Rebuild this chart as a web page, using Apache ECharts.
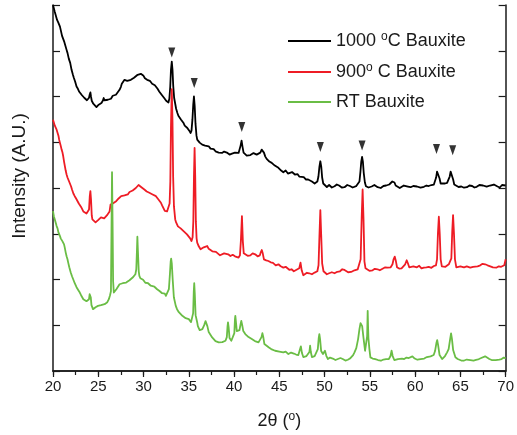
<!DOCTYPE html>
<html>
<head>
<meta charset="utf-8">
<style>
  html, body { margin: 0; padding: 0; background: #fff; }
  #chart { width: 517px; height: 435px; }
</style>
<script src="https://cdn.jsdelivr.net/npm/echarts@6/dist/echarts.min.js"></script>
</head>
<body>
<div id="chart"></div>
<script>
// XRD patterns of bauxite: [2θ (deg), intensity (a.u., traces stacked with an offset)]
const bauxite1000 = [[20.0,367],[20.2,360],[20.45,352],[20.6,349],[20.77,345.3],[21.0,336],[21.1,334],[21.25,330],[21.5,322],[21.6,319],[21.75,313],[21.9,309],[22.05,302],[22.2,297],[22.3,294],[22.45,290],[22.6,285.3],[22.75,283],[22.9,280],[23.1,278],[23.2,276.5],[23.3,275.3],[23.45,274],[23.6,273],[23.75,271.5],[23.9,272],[23.98,274],[24.05,277],[24.13,279.3],[24.2,275],[24.28,271],[24.35,270.3],[24.45,268],[24.55,266],[24.65,267],[24.8,264.7],[24.9,265.5],[25.05,267],[25.2,266.5],[25.35,268.7],[25.5,271],[25.6,273.7],[25.68,271.5],[25.75,270],[25.9,271],[26.06,272],[26.25,274],[26.4,273],[26.6,276],[26.8,275.3],[26.95,277],[27.1,279],[27.35,282],[27.5,285],[27.6,288],[27.75,290],[27.9,292],[28.05,290],[28.2,291],[28.4,290],[28.6,292],[28.8,291.5],[28.95,294],[29.15,295],[29.35,297],[29.5,296],[29.7,298],[29.85,297.5],[30.0,296],[30.15,293.5],[30.27,294.7],[30.4,292],[30.55,292],[30.7,291],[30.8,290.3],[30.95,288],[31.1,287],[31.25,286.5],[31.37,285.3],[31.55,283],[31.73,280.3],[31.85,280.5],[32.0,277],[32.15,276],[32.28,273.7],[32.5,271],[32.65,270],[32.75,269.3],[32.85,273],[32.95,285],[33.03,302],[33.12,310.3],[33.2,302],[33.28,286],[33.38,274],[33.5,268],[33.6,263],[33.74,258.7],[33.85,256],[34.0,254],[34.15,252],[34.29,250.3],[34.4,249],[34.55,246],[34.7,245.5],[34.84,243.7],[34.95,242],[35.05,241],[35.2,238.7],[35.3,241],[35.4,252],[35.49,267],[35.57,275.3],[35.65,266],[35.74,248],[35.85,236],[35.93,232],[36.2,229],[36.35,230.5],[36.48,227],[36.65,228],[36.8,226],[37.0,226.5],[37.2,225.3],[37.4,223],[37.55,222],[37.75,222.5],[37.95,220.3],[38.1,221],[38.3,219],[38.5,217.5],[38.67,218.7],[38.9,220],[39.2,219],[39.5,217],[39.77,218],[40.1,219],[40.3,217.5],[40.5,218.7],[40.62,220],[40.72,226],[40.83,231],[40.93,225],[41.05,219],[41.24,217],[41.4,216],[41.6,218],[41.8,216.5],[41.96,217],[42.15,218.5],[42.3,219],[42.5,217],[42.7,218],[42.9,219],[43.05,222],[43.17,223],[43.3,219],[43.45,215],[43.6,212.7],[43.75,213],[43.9,210],[44.16,208.7],[44.3,209],[44.5,206],[44.7,205.5],[44.9,203.7],[45.2,201],[45.44,199.3],[45.7,201],[45.95,198],[46.1,198],[46.4,199.5],[46.72,197],[47.0,197.5],[47.2,195],[47.4,194],[47.7,194.5],[47.95,192],[48.18,192],[48.4,192.5],[48.6,190],[48.9,188],[49.05,189],[49.2,190],[49.32,195],[49.43,205],[49.53,210.3],[49.63,205],[49.73,194],[49.85,188],[50.0,186],[50.25,184.5],[50.5,186.5],[50.8,184],[51.1,185.3],[51.35,187],[51.6,186],[51.9,184],[52.2,184.3],[52.5,186.5],[52.8,185.5],[53.1,184],[53.48,185.3],[53.7,186],[53.85,190],[53.96,200],[54.05,210],[54.14,214.7],[54.23,210],[54.32,199],[54.45,189],[54.57,185.3],[54.85,184],[55.2,185],[55.5,186.5],[55.86,184.3],[56.2,183.5],[56.5,185.5],[56.8,186],[57.14,187],[57.35,188],[57.48,190],[57.6,191.3],[57.72,189],[57.85,186],[58.05,184.7],[58.3,183.5],[58.5,185],[58.75,186],[58.96,187.5],[59.2,185],[59.5,184.3],[59.8,185.5],[60.2,185],[60.6,183.8],[60.97,184.7],[61.25,186],[61.5,185.5],[61.8,186.5],[62.07,187],[62.2,189],[62.32,194],[62.42,200],[62.5,202],[62.6,199],[62.7,193],[62.82,188],[62.98,187],[63.3,188],[63.53,188.7],[63.7,190],[63.82,195],[63.92,200],[64.0,201],[64.1,198],[64.2,192],[64.32,187],[64.5,186],[64.8,184.5],[65.1,185],[65.4,183.8],[65.72,184.3],[66.0,186],[66.3,185.5],[66.55,184],[66.8,184.7],[67.1,186.5],[67.5,186],[67.9,184.8],[68.28,186],[68.7,187],[69.1,185],[69.35,184],[69.6,186.5],[70.0,186]];

const bauxite900 = [[20.0,252],[20.1,249],[20.2,246],[20.3,244.5],[20.4,242],[20.5,239],[20.6,236],[20.68,232],[20.77,228.7],[20.85,226],[20.95,222],[21.05,219],[21.13,215.3],[21.22,210],[21.3,206],[21.4,201],[21.5,197],[21.6,194],[21.7,192],[21.78,190],[21.86,188.7],[22.0,185],[22.1,182],[22.25,178],[22.4,175.3],[22.55,173],[22.7,171],[22.85,168],[22.96,167],[23.1,164.5],[23.2,163],[23.35,160],[23.5,158.7],[23.7,158],[23.9,157],[23.98,162],[24.06,175],[24.13,180.3],[24.2,172],[24.28,156],[24.35,152],[24.45,151.5],[24.55,151],[24.7,149],[24.8,150.3],[24.95,151],[25.1,153],[25.3,154],[25.5,155.3],[25.65,153],[25.8,154],[25.95,156],[26.06,157],[26.15,158],[26.25,160],[26.36,167],[26.48,166],[26.6,168],[26.8,168.5],[26.98,170.3],[27.1,171],[27.25,173],[27.4,174],[27.53,175.3],[27.7,177],[27.9,176],[28.1,178],[28.26,177],[28.45,179.5],[28.6,179],[28.8,181],[28.99,182],[29.15,183.5],[29.3,184],[29.45,186.5],[29.54,186],[29.65,185],[29.8,184],[29.95,183],[30.09,182],[30.2,180.5],[30.35,180],[30.5,179.5],[30.64,178.7],[30.8,178],[31.0,177],[31.2,176],[31.37,175.3],[31.5,174],[31.65,172],[31.8,170],[31.92,168.7],[32.05,166],[32.2,164],[32.35,160.5],[32.47,159.3],[32.6,160],[32.75,162],[32.88,168],[32.96,190],[33.03,245],[33.12,282.7],[33.2,250],[33.27,195],[33.36,165],[33.5,152],[33.6,149],[33.7,147],[33.8,145],[33.93,143.7],[34.1,143],[34.29,142],[34.45,140],[34.65,138],[34.8,137],[35.0,135.3],[35.15,133],[35.3,130.3],[35.42,134],[35.5,150],[35.57,195],[35.64,223.7],[35.71,195],[35.78,150],[35.86,133],[35.93,128.7],[36.1,125],[36.3,122],[36.45,123.5],[36.65,124],[36.85,126],[37.03,125.3],[37.2,122.5],[37.4,121],[37.6,120],[37.76,118.7],[38.0,119.5],[38.2,118],[38.45,116],[38.67,117],[38.9,118],[39.1,116.5],[39.35,117],[39.6,115.3],[39.85,116.5],[40.1,115],[40.3,113],[40.5,113.7],[40.65,116],[40.75,130],[40.87,155.3],[40.97,130],[41.07,118],[41.24,117],[41.5,115.5],[41.8,116],[42.05,118],[42.33,117],[42.6,115],[42.85,116],[42.95,119],[43.06,121.3],[43.17,118],[43.3,112],[43.55,111],[43.79,110.3],[44.05,109],[44.3,108.5],[44.6,106],[44.9,107],[45.15,105],[45.44,103.7],[45.7,104.5],[45.9,103],[46.1,101.5],[46.35,102],[46.6,100],[46.9,101.5],[47.05,100],[47.2,103],[47.34,108.7],[47.47,101],[47.65,96],[47.8,97],[48.05,98.5],[48.3,98],[48.6,97],[48.9,98.7],[49.05,98],[49.2,100],[49.33,106],[49.43,135],[49.53,161.3],[49.63,135],[49.73,108],[49.88,100],[50.0,98.7],[50.25,97],[50.5,98],[50.8,99],[51.1,98],[51.4,99.5],[51.7,100],[51.95,102],[52.2,101.3],[52.4,100],[52.6,99],[52.93,99.3],[53.1,100.5],[53.3,101],[53.5,100],[53.66,102],[53.85,104],[53.98,112],[54.1,155],[54.2,182],[54.3,152],[54.4,110],[54.52,103],[54.68,102],[54.95,100.5],[55.3,101],[55.55,102.5],[55.85,102],[56.1,101],[56.4,102.5],[56.7,104],[56.95,103.7],[57.15,103],[57.3,104],[57.5,107],[57.62,112],[57.75,114.7],[57.88,110],[58.0,104],[58.23,102.7],[58.5,103],[58.7,104],[58.9,107],[59.07,111],[59.2,108],[59.35,104],[59.5,103.7],[59.8,105],[60.0,103],[60.2,104],[60.45,105.5],[60.7,103],[60.97,103.7],[61.25,104],[61.5,104.5],[61.8,103.5],[62.07,105.3],[62.3,106],[62.42,112],[62.52,138],[62.62,154.7],[62.72,137],[62.82,112],[62.95,105],[63.17,103.7],[63.35,104.5],[63.5,105],[63.72,107],[63.9,108],[64.0,113],[64.1,140],[64.19,156.3],[64.29,138],[64.4,112],[64.55,104],[64.74,103.7],[65.0,105],[65.2,103],[65.4,104],[65.7,105],[66.09,103.7],[66.4,104.5],[66.6,106],[66.9,105],[67.2,106],[67.45,107.5],[67.73,107],[68.0,106],[68.3,105],[68.6,104],[69.0,103.7],[69.25,105],[69.5,104.5],[69.7,105.5],[69.85,106],[70.0,112]];

const bauxiteRT = [[20.0,160.3],[20.1,155],[20.2,152],[20.3,150],[20.4,145.3],[20.5,143],[20.6,139],[20.7,137],[20.77,135.3],[20.85,133],[20.95,131],[21.05,130],[21.13,128.7],[21.22,127],[21.3,123.7],[21.4,119],[21.5,115],[21.6,112],[21.68,108.7],[21.8,104],[21.95,99],[22.1,95],[22.23,92],[22.4,88],[22.6,84],[22.8,81],[22.96,78.7],[23.1,76],[23.2,74],[23.35,72],[23.5,70.3],[23.7,70],[23.9,68.7],[23.98,72],[24.05,77],[24.1,78.7],[24.17,74],[24.25,66],[24.42,62],[24.55,63.5],[24.7,64],[24.85,63],[24.97,65.3],[25.15,64.5],[25.3,66],[25.5,65.5],[25.7,67],[25.85,68],[26.0,69],[26.17,72],[26.3,76],[26.4,80],[26.46,140],[26.52,199.3],[26.58,150],[26.64,90],[26.72,78.7],[26.85,80],[27.0,82],[27.15,84],[27.35,87],[27.5,86],[27.7,88],[27.9,87.5],[28.08,88.7],[28.25,90],[28.45,91],[28.6,92.5],[28.8,93.7],[28.95,95],[29.1,97],[29.2,102],[29.27,120],[29.32,134.7],[29.38,120],[29.47,100],[29.54,95.3],[29.65,93],[29.8,92],[29.95,91.5],[30.09,90.3],[30.2,88.5],[30.35,89],[30.5,88],[30.64,87],[30.8,85.5],[31.0,85],[31.2,84.5],[31.37,83.7],[31.5,82],[31.65,81],[31.8,80],[31.92,78.7],[32.05,78],[32.2,77],[32.35,77.5],[32.47,75.3],[32.65,76],[32.8,82],[32.92,98],[33.0,110],[33.05,112.7],[33.12,108],[33.22,92],[33.35,74],[33.56,65.3],[33.7,62],[33.9,59],[34.1,57],[34.29,55.3],[34.45,54],[34.65,53],[34.85,52.5],[35.0,52],[35.15,50],[35.25,49],[35.39,47],[35.48,58],[35.55,80],[35.6,88],[35.66,78],[35.75,56],[35.93,48.7],[36.0,45],[36.1,43],[36.2,41],[36.3,40.3],[36.4,41],[36.5,42],[36.7,46],[36.85,50],[36.92,50.3],[37.05,45],[37.2,39],[37.58,33.7],[37.75,32],[37.95,30],[38.1,29.5],[38.31,28.7],[38.5,28],[38.7,29],[38.9,30],[39.05,30.3],[39.2,34],[39.28,45],[39.33,48.7],[39.4,44],[39.5,33],[39.7,30.3],[39.9,32],[40.03,38],[40.1,52],[40.14,55.3],[40.2,50],[40.3,40],[40.43,38.7],[40.6,41],[40.72,47],[40.8,50.3],[40.9,46],[41.02,40],[41.24,37],[41.4,35],[41.6,34],[41.8,33],[41.96,32],[42.1,31],[42.3,30],[42.5,29.5],[42.7,28.7],[42.9,29],[43.03,34],[43.13,38],[43.23,34],[43.35,27],[43.6,25.3],[43.85,23.5],[44.1,22],[44.3,23],[44.53,20.3],[44.75,21],[45.0,19.5],[45.2,20.5],[45.44,18.7],[45.7,19.5],[46.0,17],[46.3,18.5],[46.6,17.5],[46.85,16.5],[47.1,16],[47.25,18],[47.38,24.7],[47.5,18],[47.65,14],[47.82,13.7],[48.0,15],[48.2,14],[48.32,19],[48.4,25.3],[48.48,19],[48.6,14],[48.73,13.7],[48.9,15],[49.1,16],[49.25,22],[49.35,33],[49.42,37],[49.5,32],[49.62,20],[49.82,17],[49.95,19],[50.04,20.3],[50.2,15],[50.37,12],[50.6,13.5],[50.9,12.5],[51.2,11],[51.47,12],[51.75,13],[52.0,12],[52.3,10.5],[52.57,11.3],[52.8,12.5],[53.0,14],[53.15,16],[53.3,18.7],[53.5,23],[53.7,32],[53.85,42],[53.97,48],[54.05,49.3],[54.15,45],[54.3,33],[54.47,20.3],[54.6,22],[54.7,35],[54.76,60.3],[54.8,45],[54.84,33],[54.88,32],[54.95,22],[55.06,13.7],[55.3,12.5],[55.6,12],[55.9,11],[56.22,10.3],[56.5,11.5],[56.8,12],[57.1,12],[57.28,15],[57.4,20.3],[57.52,15],[57.7,11],[57.87,10.3],[58.1,12],[58.3,11],[58.55,12.5],[58.79,12],[59.05,13.5],[59.3,13],[59.5,15],[59.7,14.7],[59.95,12.5],[60.25,11.3],[60.6,12],[61.0,12.5],[61.3,14],[61.5,13],[61.71,14.7],[61.9,15],[62.05,16],[62.2,20],[62.35,28],[62.44,31],[62.54,26],[62.7,16],[62.98,12],[63.3,15],[63.53,18.7],[63.7,22],[63.85,31],[63.97,37.7],[64.07,32],[64.2,21],[64.45,13.7],[64.7,12],[64.9,11.5],[65.1,10.5],[65.36,10.3],[65.7,11.5],[66.1,11],[66.45,10.5],[66.82,11.3],[67.05,12],[67.3,13],[67.5,14],[67.73,14.7],[67.95,13],[68.2,12],[68.45,11],[68.65,10.3],[68.9,11],[69.1,12.5],[69.3,11.5],[69.55,12],[69.8,13.5],[70.0,12.7]];

// Peak markers (▼) above the reflections of the 1000 °C trace
const markerAngles = [33.12, 35.6, 40.85, 49.53, 54.14, 62.36, 64.15];
const markerLevels = [319.3, 288.7, 244.7, 224.7, 226, 222.7, 221.3];

const seriesNames = ['1000 °C Bauxite', '900° C Bauxite', 'RT Bauxite'];
const seriesColors = ['#000000', '#ee1c25', '#6abd45'];

const FONT = 'Liberation Sans, Arial, Helvetica, sans-serif';
const TEXT = '#1a1a1a';
const AXIS = '#1a1a1a';

const legendLabels = {
  '1000 °C Bauxite': '{t|1000 }{s|o}{t|C Bauxite}',
  '900° C Bauxite': '{t|900}{s|o}{t| C Bauxite}',
  'RT Bauxite': '{t|RT Bauxite}'
};

const chart = echarts.init(document.getElementById('chart'), null, { renderer: 'canvas' });

const lineSeries = [bauxite1000, bauxite900, bauxiteRT].map((d, i) => ({
  name: seriesNames[i],
  type: 'line',
  data: d,
  showSymbol: false,
  symbol: 'none',
  lineStyle: { width: 1.8, color: seriesColors[i], join: 'round' },
  itemStyle: { color: seriesColors[i] },
  z: 2 + i,
  animation: false
}));

const option = {
  backgroundColor: '#ffffff',
  animation: false,
  grid: { left: 53, right: 8, top: 5, bottom: 63, containLabel: false },
  legend: {
    orient: 'vertical',
    left: 288,
    top: 31,
    padding: 0,
    itemWidth: 43,
    itemHeight: 2,
    itemGap: 12,
    icon: 'rect',
    data: seriesNames,
    formatter: name => legendLabels[name],
    textStyle: {
      color: TEXT,
      rich: {
        t: { fontFamily: FONT, fontSize: 18, color: TEXT, lineHeight: 20 },
        s: { fontFamily: FONT, fontSize: 12, color: TEXT, lineHeight: 12, verticalAlign: 'top' }
      }
    }
  },
  graphic: [
    {
      type: 'text',
      x: 20,
      y: 176,
      rotation: Math.PI / 2,
      silent: true,
      style: {
        text: 'Intensity (A.U.)',
        font: '19px ' + FONT,
        fill: TEXT,
        align: 'center',
        verticalAlign: 'middle'
      }
    }
  ],
  xAxis: [
    {
      type: 'value', min: 20, max: 70, interval: 5,
      position: 'bottom',
      name: '{t|2θ (}{s|o}{t|)}',
      nameLocation: 'middle',
      nameGap: 40,
      nameTextStyle: {
        rich: {
          t: { fontFamily: FONT, fontSize: 18, color: TEXT, lineHeight: 20 },
          s: { fontFamily: FONT, fontSize: 12, color: TEXT, lineHeight: 12, verticalAlign: 'top' }
        }
      },
      axisLine: { show: true, lineStyle: { color: AXIS, width: 1.5 } },
      axisTick: { show: true, inside: false, length: 4, lineStyle: { color: AXIS, width: 1.2 } },
      minorTick: { show: true, splitNumber: 2, length: 4, lineStyle: { color: AXIS, width: 1.2 } },
      axisLabel: { fontFamily: FONT, fontSize: 15, color: TEXT, margin: 8 },
      splitLine: { show: false }
    },
    {
      type: 'value', min: 20, max: 70, interval: 5,
      position: 'top',
      axisLine: { show: true, lineStyle: { color: AXIS, width: 1.5 } },
      axisTick: { show: true, inside: true, length: 6, lineStyle: { color: AXIS, width: 1.2 } },
      axisLabel: { show: false },
      splitLine: { show: false }
    }
  ],
  yAxis: [
    {
      type: 'value', min: 0, max: 367, interval: 45.875,
      position: 'left',
      axisLine: { show: true, lineStyle: { color: AXIS, width: 1.5 } },
      axisTick: { show: true, inside: true, length: 7, lineStyle: { color: AXIS, width: 1.2 } },
      axisLabel: { show: false },
      splitLine: { show: false }
    },
    {
      type: 'value', min: 0, max: 367, interval: 45.875,
      position: 'right',
      axisLine: { show: true, lineStyle: { color: AXIS, width: 1.5 } },
      axisTick: { show: true, inside: true, length: 7, lineStyle: { color: AXIS, width: 1.2 } },
      axisLabel: { show: false },
      splitLine: { show: false }
    }
  ],
  series: [
    ...lineSeries,
    {
      name: 'markers',
      type: 'scatter',
      data: markerAngles.map((a, i) => [a, markerLevels[i]]),
      symbol: 'triangle',
      symbolRotate: 180,
      symbolSize: [7, 10],
      itemStyle: { color: '#000000' },
      z: 6,
      silent: true
    }
  ]
};

chart.setOption(option);
</script>
</body>
</html>
